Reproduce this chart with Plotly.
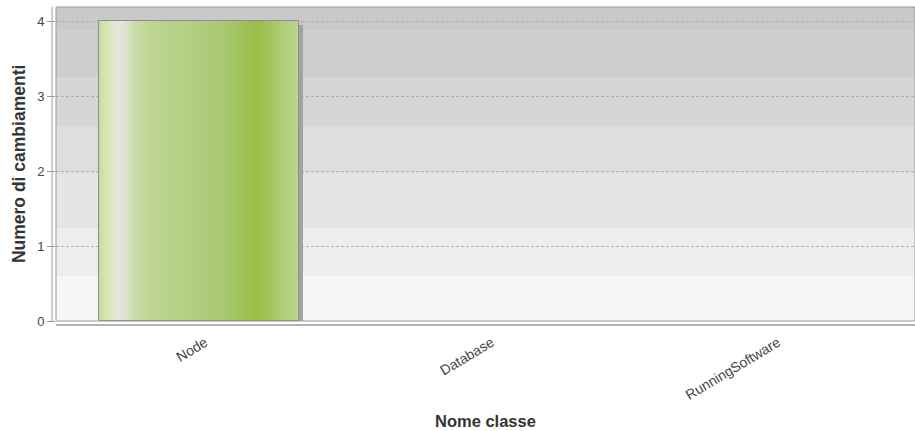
import plotly.graph_objects as go

# Data
categories = ["Node", "Database", "RunningSoftware"]
changes = [4, 0, 0]
y_ticks = [0, 1, 2, 3, 4]

x_title = "Nome classe"
y_title = "Numero di cambiamenti"

# Style
FONT = "Liberation Sans, Arial, sans-serif"
BAR_WIDTH = 0.70
N_SLICES = 90
gradient_stops = [
    (0.00, (197, 222, 154)),
    (0.03, (210, 228, 178)),
    (0.10, (230, 232, 222)),
    (0.17, (206, 221, 176)),
    (0.25, (190, 213, 146)),
    (0.45, (180, 207, 130)),
    (0.62, (168, 201, 112)),
    (0.79, (152, 190, 72)),
    (0.90, (170, 204, 110)),
    (1.00, (190, 215, 152)),
]


def gradient_color(t):
    for (t0, c0), (t1, c1) in zip(gradient_stops[:-1], gradient_stops[1:]):
        if t0 <= t <= t1:
            f = (t - t0) / (t1 - t0) if t1 > t0 else 0
            r, g, b = (round(a + (b_ - a) * f) for a, b_ in zip(c0, c1))
            return f"rgb({r},{g},{b})"
    r, g, b = gradient_stops[-1][1]
    return f"rgb({r},{g},{b})"


fig = go.Figure()

# drop shadow behind the bars (shifted right and down by a few pixels)
shadow_dx = 0.014
shadow_dy = 0.054
fig.add_trace(go.Bar(
    x=categories, y=changes, base=-shadow_dy,
    width=BAR_WIDTH, offset=-BAR_WIDTH / 2 + shadow_dx,
    marker=dict(color="#a3a3a3", line=dict(width=0)),
    hoverinfo="skip", showlegend=False,
))

# horizontally shaded bar body, built from thin vertical strips
sx, sy, soff, sw, scol = [], [], [], [], []
step = BAR_WIDTH / N_SLICES
for cat, val in zip(categories, changes):
    for k in range(N_SLICES):
        t = (k + 0.5) / N_SLICES
        left = -BAR_WIDTH / 2 + k * step
        sx.append(cat)
        sy.append(val)
        soff.append(left)
        sw.append(min(step * 1.6, BAR_WIDTH / 2 - left))
        scol.append(gradient_color(t))
fig.add_trace(go.Bar(
    x=sx, y=sy, offset=soff, width=sw,
    marker=dict(color=scol, line=dict(width=0)),
    hoverinfo="skip", showlegend=False,
))

# bar outline (only where there is a bar to outline)
fig.add_trace(go.Bar(
    x=categories, y=changes, width=BAR_WIDTH, offset=-BAR_WIDTH / 2,
    marker=dict(color="rgba(0,0,0,0)",
                line=dict(color="#8c8c8c", width=[1 if v else 0 for v in changes])),
    showlegend=False,
))

# banded grey plot background
band_edges = [1.0, 0.927, 0.777, 0.621, 0.468, 0.296, 0.143, 0.0]
band_colors = ["#c9c9c9", "#cecece", "#d6d6d6", "#dedede", "#e5e5e5", "#eeeeee", "#f6f6f6"]
shapes = []
for top, bot, col in zip(band_edges[:-1], band_edges[1:], band_colors):
    shapes.append(dict(type="rect", xref="paper", yref="paper", x0=0, x1=1,
                       y0=bot, y1=top, fillcolor=col, line=dict(width=0),
                       layer="below"))
# plot frame
shapes.append(dict(type="rect", xref="paper", yref="paper", x0=0, x1=1, y0=0, y1=1,
                   line=dict(color="#9a9a9a", width=1), layer="above"))
# offset axis lines
shapes.append(dict(type="line", xref="paper", yref="paper", xsizemode="pixel",
                   xanchor=0, x0=-4, x1=-4, y0=0, y1=1,
                   line=dict(color="#9a9a9a", width=1)))
shapes.append(dict(type="line", xref="paper", yref="paper", ysizemode="pixel",
                   yanchor=0, y0=-4, y1=-4, x0=0, x1=1,
                   line=dict(color="#9a9a9a", width=1.5)))

fig.update_layout(
    width=915, height=431,
    margin=dict(l=56, r=0, t=7, b=110),
    paper_bgcolor="white", plot_bgcolor="rgba(0,0,0,0)",
    barmode="overlay", bargap=0,
    showlegend=False,
    font=dict(family=FONT, size=13, color="#444444"),
    shapes=shapes,
    xaxis=dict(
        type="category", range=[-0.5, 2.5], fixedrange=True,
        showgrid=False, zeroline=False, showline=False, ticks="",
        tickangle=-31, ticklabelstandoff=10, ticklabelshift=6,
        tickfont=dict(family=FONT, size=14, color="#444444"),
    ),
    yaxis=dict(
        range=[0, 4.19], tickvals=y_ticks, ticktext=[str(v) for v in y_ticks],
        showgrid=True, gridcolor="#b0b0b0", griddash="3px,2px", gridwidth=1,
        zeroline=False, showline=False,
        ticks="outside", ticklen=8, tickcolor="#9a9a9a", tickwidth=1,
        tickfont=dict(family=FONT, size=13, color="#444444"),
    ),
    annotations=[
        dict(text=f"<b>{x_title}</b>", xref="paper", yref="paper", x=0.5, y=-0.318,
             xanchor="center", yanchor="middle", showarrow=False,
             font=dict(family=FONT, size=16.5, color="#333333")),
        dict(text=f"<b>{y_title}</b>", xref="paper", yref="paper", x=-0.043, y=0.5,
             xanchor="center", yanchor="middle", textangle=-90, showarrow=False,
             font=dict(family=FONT, size=17.5, color="#333333")),
    ],
)

fig.write_html("out.html")
